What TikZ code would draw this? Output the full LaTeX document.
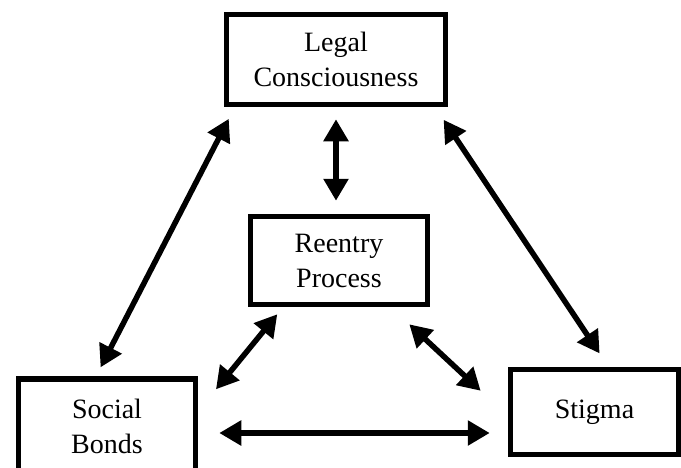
\documentclass[tikz,border=0pt]{standalone}
\usepackage{fontspec}
\setmainfont{Liberation Serif}
\usetikzlibrary{arrows.meta}

\begin{document}
\begin{tikzpicture}[x=1pt,y=-1pt,
        box/.style={draw,line width=5.5pt,align=center,inner sep=0pt,
            font=\fontsize{28}{35}\selectfont},
        twoway/.style={{Triangle[length=22pt,width=24pt]}-{Triangle[length=22pt,width=24pt]},
            line width=5.5pt}]
        \useasboundingbox (0,0) rectangle (681,467);

        %boxes
        \node[box,minimum width=219pt,minimum height=90pt] (legal) at (336,59.5) {Legal\\Consciousness};
        \node[box,minimum width=177pt,minimum height=88pt] (reentry) at (339,260.5) {Reentry\\Process};
        \node[box,minimum width=177pt,minimum height=94pt] (social) at (107,426) {Social\\Bonds};
        \node[box,minimum width=168pt,minimum height=85pt] (stigma) at (594.5,412) {Stigma};

        %arrows from the top box
        \draw[twoway,shorten <=12pt,shorten >=13pt] (legal.south) -- (legal.south |- reentry.north);
        \draw[twoway,shorten <=13pt,shorten >=10pt] ([xshift=11pt]legal.south west) -- ([xshift=-11pt]social.north);
        \draw[twoway,shorten <=15pt,shorten >=16pt] ([xshift=-13pt]legal.south east) -- ([xshift=14pt]stigma.north);

        %arrows from the middle box
        \draw[twoway,shorten <=9pt,shorten >=28pt] ([xshift=-56pt]reentry.south) -- ([yshift=15pt]social.east);
        \draw[twoway,shorten <=25pt,shorten >=37pt] ([xshift=52pt]reentry.south) -- ([yshift=-4pt]stigma.west);

        %bottom arrow
        \coordinate (bl) at ([yshift=-7pt]social.east);
        \draw[twoway,shorten <=21pt,shorten >=18pt] (bl) -- (bl -| stigma.west);
    \end{tikzpicture}
\end{document}
